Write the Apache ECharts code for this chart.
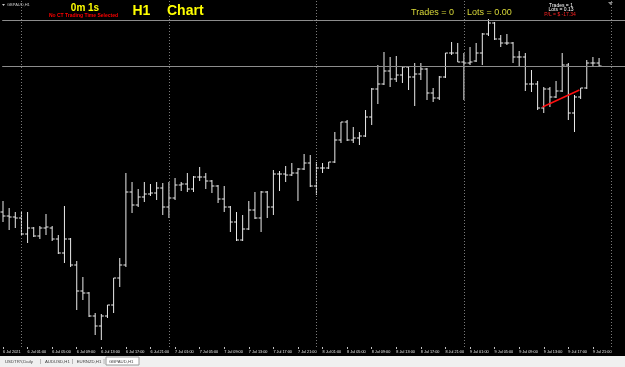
<!DOCTYPE html>
<html>
<head>
<meta charset="utf-8">
<script src="https://cdn.jsdelivr.net/npm/echarts@6/dist/echarts.min.js"></script>
<style>
    html, body { margin: 0; padding: 0; background: #000; }
    #chart { width: 625px; height: 367px; }
</style>
</head>
<body>
<div id="chart"></div>
<script>
    // GBPAUD H1, one value per bar (bar 0 = 5 Jul 21:00)
    var opens = [1.8588,1.8584,1.8583,1.8582,1.8566,1.8572,1.8564,1.8572,1.8572,1.8561,
        1.8547,1.8561,1.8535,1.8509,1.8507,1.8484,1.8474,1.8484,1.8495,1.8522,
        1.8535,1.8608,1.8595,1.8603,1.8606,1.8607,1.8612,1.8593,1.8602,1.8615,
        1.8616,1.8611,1.8623,1.8623,1.8619,1.8614,1.8601,1.8593,1.8578,1.8560,
        1.8571,1.8590,1.8582,1.8608,1.8593,1.8626,1.8626,1.8625,1.8627,1.8631,
        1.8637,1.8614,1.8632,1.8632,1.8638,1.8660,1.8678,1.8660,1.8662,1.8664,
        1.8683,1.8711,1.8716,1.8729,1.8721,1.8725,1.8733,1.8723,1.8726,1.8731,
        1.8707,1.8702,1.8723,1.8747,1.8747,1.8738,1.8737,1.8739,1.8747,1.8766,
        1.8777,1.8761,1.8757,1.8757,1.8743,1.8743,1.8716,1.8716,1.8692,1.8711,
        1.8703,1.8709,1.8735,1.8687,1.8703,1.8712,1.8737,1.8737];
    var highs = [1.8599,1.8592,1.8588,1.8588,1.8588,1.8573,1.8574,1.8586,1.8574,1.8565,
        1.8594,1.8562,1.8539,1.8523,1.8508,1.8487,1.8486,1.8495,1.8522,1.8542,
        1.8627,1.8618,1.8611,1.8618,1.8616,1.8618,1.8617,1.8618,1.8622,1.8618,
        1.8627,1.8624,1.8633,1.8627,1.8620,1.8615,1.8614,1.8594,1.8588,1.8585,
        1.8599,1.8608,1.8609,1.8609,1.8630,1.8629,1.8634,1.8637,1.8632,1.8646,
        1.8645,1.8638,1.8637,1.8638,1.8668,1.8678,1.8680,1.8673,1.8668,1.8690,
        1.8712,1.8735,1.8748,1.8743,1.8744,1.8734,1.8734,1.8737,1.8737,1.8732,
        1.8712,1.8724,1.8747,1.8758,1.8757,1.8747,1.8753,1.8757,1.8767,1.8781,
        1.8778,1.8765,1.8766,1.8758,1.8749,1.8747,1.8730,1.8719,1.8713,1.8713,
        1.8719,1.8747,1.8737,1.8705,1.8712,1.8740,1.8743,1.8742];
    var lows = [1.8578,1.8570,1.8572,1.8565,1.8557,1.8563,1.8561,1.8565,1.8559,1.8546,
        1.8537,1.8533,1.8490,1.8500,1.8483,1.8465,1.8460,1.8482,1.8487,1.8513,
        1.8533,1.8587,1.8593,1.8598,1.8604,1.8600,1.8585,1.8582,1.8600,1.8609,
        1.8608,1.8608,1.8619,1.8611,1.8607,1.8597,1.8588,1.8568,1.8559,1.8559,
        1.8570,1.8581,1.8568,1.8582,1.8585,1.8609,1.8618,1.8624,1.8599,1.8630,
        1.8613,1.8605,1.8627,1.8631,1.8637,1.8657,1.8659,1.8657,1.8655,1.8663,
        1.8675,1.8696,1.8715,1.8713,1.8718,1.8717,1.8710,1.8694,1.8720,1.8700,
        1.8698,1.8700,1.8722,1.8745,1.8738,1.8700,1.8735,1.8738,1.8735,1.8764,
        1.8760,1.8753,1.8755,1.8737,1.8733,1.8709,1.8708,1.8690,1.8687,1.8693,
        1.8702,1.8708,1.8680,1.8668,1.8701,1.8711,1.8733,1.8733];
    var closes = [1.8584,1.8583,1.8582,1.8566,1.8572,1.8564,1.8572,1.8573,1.8561,1.8547,
        1.8561,1.8535,1.8509,1.8507,1.8484,1.8474,1.8484,1.8495,1.8522,1.8535,
        1.8608,1.8595,1.8603,1.8606,1.8607,1.8612,1.8593,1.8602,1.8615,1.8616,
        1.8611,1.8623,1.8623,1.8619,1.8614,1.8601,1.8593,1.8578,1.8560,1.8571,
        1.8590,1.8582,1.8608,1.8593,1.8626,1.8626,1.8625,1.8627,1.8631,1.8637,
        1.8614,1.8632,1.8632,1.8638,1.8660,1.8678,1.8660,1.8662,1.8664,1.8683,
        1.8711,1.8716,1.8729,1.8721,1.8725,1.8733,1.8723,1.8726,1.8731,1.8707,
        1.8702,1.8723,1.8747,1.8747,1.8738,1.8737,1.8738,1.8747,1.8766,1.8777,
        1.8761,1.8757,1.8757,1.8743,1.8743,1.8716,1.8716,1.8692,1.8711,1.8703,
        1.8709,1.8735,1.8687,1.8703,1.8712,1.8737,1.8737,1.8734];

    var tickLabels = ['6 Jul 2021','6 Jul 01:00','6 Jul 05:00','6 Jul 09:00','6 Jul 13:00','6 Jul 17:00',
        '6 Jul 21:00','7 Jul 01:00','7 Jul 05:00','7 Jul 09:00','7 Jul 13:00','7 Jul 17:00',
        '7 Jul 21:00','8 Jul 01:00','8 Jul 05:00','8 Jul 09:00','8 Jul 13:00','8 Jul 17:00',
        '8 Jul 21:00','9 Jul 01:00','9 Jul 05:00','9 Jul 09:00','9 Jul 13:00','9 Jul 17:00','9 Jul 21:00'];
    var tickBars = [0,4,8,12,16,20,24,28,32,36,40,44,48,52,56,60,64,68,72,76,80,84,88,92,96];
    var daySeparators = [3, 27, 51, 75, 99];
    var hLines = [1.87795, 1.8734];
    var tradeLine = [[87.8, 1.8693], [93.8, 1.8710]];
    var tabs = ['USDTRY,Daily', 'AUDUSD,H1', 'EURNZD,H1', 'GBPAUD,H1'];

    var xMin = -0.13, xMax = 101.22;
    var yMin = 1.8453, yMax = 1.88;

    var chart = echarts.init(document.getElementById('chart'));

    var barData = opens.map(function (o, i) {
        return [i, o, highs[i], lows[i], closes[i]];
    });

    function renderBar(params, api) {
        var x = api.value(0);
        var o = api.coord([x, api.value(1)]);
        var h = api.coord([x, api.value(2)]);
        var l = api.coord([x, api.value(3)]);
        var c = api.coord([x, api.value(4)]);
        var w = 2.5;
        var st = { stroke: '#ececec', lineWidth: 1 };
        return {
            type: 'group',
            children: [
                { type: 'line', shape: { x1: h[0], y1: h[1], x2: l[0], y2: l[1] }, style: st },
                { type: 'line', shape: { x1: o[0] - w, y1: o[1], x2: o[0], y2: o[1] }, style: st },
                { type: 'line', shape: { x1: c[0], y1: c[1], x2: c[0] + w, y2: c[1] }, style: st }
            ]
        };
    }

    var smallFont = 'Liberation Sans';
    var boldFont = 'Liberation Sans';

    var graphics = [
        { type: 'rect', shape: { x: 0, y: 356, width: 625, height: 11 }, style: { fill: '#f0f0f0' }, z: 100 },
        { type: 'rect', shape: { x: 106, y: 357, width: 33, height: 8 }, style: { fill: '#ffffff', stroke: '#9a9a9a', lineWidth: 1 }, z: 101 },
        { type: 'polygon', shape: { points: [[2, 4], [5, 4], [3.5, 6]] }, style: { fill: '#c8c8c8' }, z: 100 },
        { type: 'text', x: 7, y: 5.3, style: { text: 'GBPAUD,H1', fill: '#c8c8c8', font: '4px ' + smallFont, verticalAlign: 'middle' }, z: 100 },
        { type: 'text', x: 85, y: 8.5, style: { text: '0m 1s', fill: '#ffff00', font: 'bold 10px ' + boldFont, align: 'center', verticalAlign: 'middle' }, z: 100 },
        { type: 'text', x: 83.5, y: 15.5, style: { text: 'No CT Trading Time Selected', fill: '#ff0000', font: 'bold 5px ' + boldFont, align: 'center', verticalAlign: 'middle' }, z: 100 },
        { type: 'text', x: 132.5, y: 11, style: { text: 'H1', fill: '#ffff00', font: 'bold 14px ' + boldFont, verticalAlign: 'middle' }, z: 100 },
        { type: 'text', x: 167, y: 11, style: { text: 'Chart', fill: '#ffff00', font: 'bold 14px ' + boldFont, verticalAlign: 'middle' }, z: 100 },
        { type: 'text', x: 411, y: 12.5, style: { text: 'Trades = 0', fill: '#d8d838', font: '9px ' + boldFont, verticalAlign: 'middle' }, z: 100 },
        { type: 'text', x: 467, y: 12.5, style: { text: 'Lots = 0.00', fill: '#d8d838', font: '9px ' + boldFont, verticalAlign: 'middle' }, z: 100 },
        { type: 'text', x: 561, y: 5.3, style: { text: 'Trades = 1', fill: '#ffffff', font: '5px ' + boldFont, align: 'center', verticalAlign: 'middle' }, z: 100 },
        { type: 'text', x: 561, y: 10, style: { text: 'Lots = 0.13', fill: '#ffffff', font: '5px ' + boldFont, align: 'center', verticalAlign: 'middle' }, z: 100 },
        { type: 'text', x: 560, y: 14.7, style: { text: 'P/L = $ -17.34', fill: '#ff2020', font: '5px ' + boldFont, align: 'center', verticalAlign: 'middle' }, z: 100 },
        { type: 'polygon', shape: { points: [[608, 2], [613, 2], [610.5, 5]] }, style: { fill: '#8a8a8a' }, z: 100 }
    ];
    var tabX = [5, 45, 76.7, 109];
    var sepX = [40, 71.7, 103.3];
    tabs.forEach(function (t, k) {
        graphics.push({ type: 'text', x: tabX[k], y: 361.5, style: { text: t, fill: '#404040', font: '4.3px ' + smallFont, verticalAlign: 'middle' }, z: 102 });
    });
    sepX.forEach(function (x) {
        graphics.push({ type: 'text', x: x, y: 361.5, style: { text: '|', fill: '#808080', font: '6px ' + smallFont, verticalAlign: 'middle' }, z: 102 });
    });

    var markData = [];
    hLines.forEach(function (v) {
        markData.push([{ coord: [xMin, v], lineStyle: { color: '#8c8c8c', type: 'solid', width: 1 } }, { coord: [xMax, v] }]);
    });
    daySeparators.forEach(function (v) {
        markData.push([{ coord: [v, yMin], lineStyle: { color: '#7a7a7a', type: [1, 2], width: 1 } }, { coord: [v, yMax] }]);
    });

    var option = {
        backgroundColor: '#000000',
        animation: false,
        grid: { left: 0, right: 0, top: 0, bottom: 20 },
        xAxis: {
            type: 'value',
            min: xMin,
            max: xMax,
            splitLine: { show: false },
            axisLine: { show: false },
            axisTick: { show: true, customValues: tickBars, length: 2, lineStyle: { color: '#c0c0c0' } },
            axisLabel: {
                customValues: tickBars,
                formatter: function (v) { return tickLabels[tickBars.indexOf(v)]; },
                color: '#e8e8e8',
                fontSize: 3.8,
                fontFamily: smallFont,
                align: 'left',
                margin: 2.5,
                showMinLabel: true,
                hideOverlap: false
            }
        },
        yAxis: { type: 'value', min: yMin, max: yMax, show: false },
        graphic: graphics,
        series: [
            {
                type: 'custom',
                renderItem: renderBar,
                data: barData,
                encode: { x: 0, y: [1, 2, 3, 4] },
                clip: false
            },
            {
                type: 'line',
                data: tradeLine,
                symbol: 'none',
                clip: false,
                lineStyle: { color: '#ff1010', width: 1.5 },
                z: 5,
                markLine: {
                    silent: true,
                    symbol: 'none',
                    precision: 5,
                    label: { show: false },
                    data: markData
                }
            }
        ]
    };
    chart.setOption(option);
</script>
</body>
</html>
